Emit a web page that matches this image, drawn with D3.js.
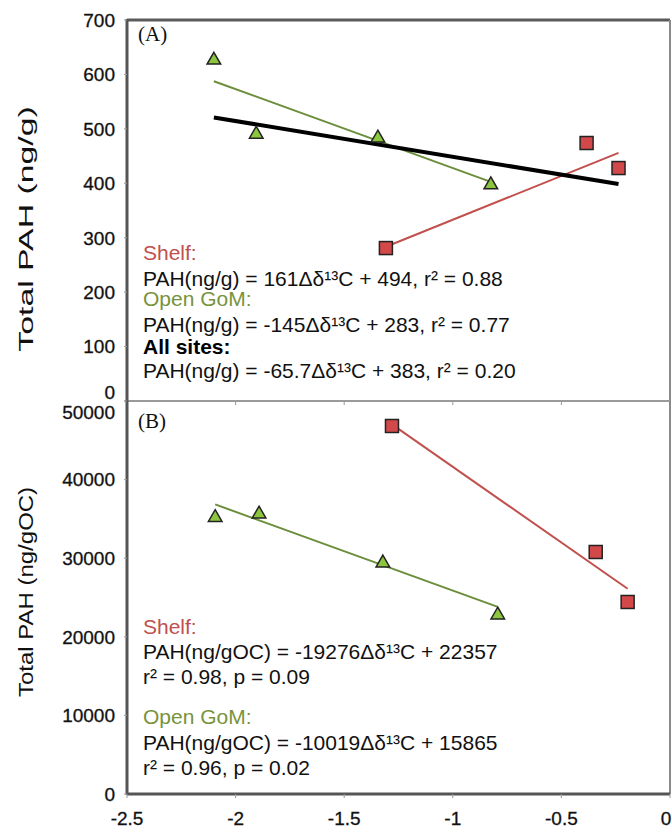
<!DOCTYPE html>
<html><head><meta charset="utf-8">
<script src="https://cdn.jsdelivr.net/npm/d3@7"></script>
<style>
html,body{margin:0;padding:0;background:#fff;}
svg{display:block;font-family:"Liberation Sans",Arial,sans-serif;}
</style></head>
<body>
<svg id="chart" width="672" height="828"></svg>
<script>
// ---------- DATA ----------
const xTicks = [-2.5, -2, -1.5, -1, -0.5, 0];
const xTickLabels = ["-2.5", "-2", "-1.5", "-1", "-0.5", "0"];
const yTicksA = [0, 100, 200, 300, 400, 500, 600, 700];
const yTicksB = [0, 10000, 20000, 30000, 40000, 50000];

// Panel A: Total PAH (ng/g)
const openA_x = [-2.10, -1.905, -1.345, -0.825];
const openA_y = [628, 492, 485, 399];
const shelfA_x = [-1.308, -0.384, -0.237];
const shelfA_y = [281, 474, 428];
// fits (slope, intercept) from the chart equations
const fitShelfA = [161, 494];
const fitOpenA = [-145, 283];
const fitAllA = [-65.7, 383];

// Panel B: Total PAH (ng/gOC)
const openB_x = [-2.094, -1.892, -1.322, -0.793];
const openB_y = [35300, 35750, 29520, 22900];
const shelfB_x = [-1.280, -0.342, -0.195];
const shelfB_y = [46820, 30790, 24430];
const fitShelfB = [-19276, 22357];
const fitOpenB = [-10019, 15865];

const annoA = [
  {t: "Shelf:", c: "shelf"},
  {t: "PAH(ng/g) = 161Δδ¹³C + 494, r² = 0.88", c: "eq"},
  {t: "Open GoM:", c: "open"},
  {t: "PAH(ng/g) = -145Δδ¹³C + 283, r² = 0.77", c: "eq"},
  {t: "All sites:", c: "all"},
  {t: "PAH(ng/g) = -65.7Δδ¹³C + 383, r² = 0.20", c: "eq"}
];
const annoB = [
  {t: "Shelf:", c: "shelf"},
  {t: "PAH(ng/gOC) = -19276Δδ¹³C + 22357", c: "eq"},
  {t: "r² = 0.98, p = 0.09", c: "eq"},
  {t: "Open GoM:", c: "open"},
  {t: "PAH(ng/gOC) = -10019Δδ¹³C + 15865", c: "eq"},
  {t: "r² = 0.96, p = 0.02", c: "eq"}
];

// ---------- STYLE / LAYOUT ----------
const C = {
  shelfText: "#c0504d", openText: "#77933c",
  shelfLine: "#c0504d", openLine: "#6b8e3a",
  sqFill: "#d34848", triFill: "#8cc63e", stroke: "#222"
};
const left = 127, right = 670;
const svg = d3.select("#chart");

const x = d3.scaleLinear().domain([-2.5, 0]).range([left, right]);
const yA = d3.scaleLinear().domain([0, 700]).range([401, 20]);
const yB = d3.scaleLinear().domain([0, 50000]).range([794, 401]);

function zip(xs, ys){ return xs.map((v,i)=>[v, ys[i]]); }

function drawPanel(y, ticks, tickShift, opts){
  const g = svg.append("g");
  const [y0, y1] = y.range(); // bottom, top
  g.append("line").attr("x1", left).attr("x2", right).attr("y1", y1).attr("y2", y1)
    .attr("stroke", opts.topColor).attr("stroke-width", opts.topWidth);
  g.append("line").attr("x1", right).attr("x2", right).attr("y1", y1).attr("y2", y0)
    .attr("stroke", "#8a8a8a").attr("stroke-width", 2);
  g.append("line").attr("x1", left).attr("x2", right).attr("y1", y0).attr("y2", y0)
    .attr("stroke", opts.bottomColor).attr("stroke-width", opts.bottomWidth);
  g.append("line").attr("x1", left).attr("x2", left).attr("y1", y1-1).attr("y2", y0+1)
    .attr("stroke", "#555").attr("stroke-width", 3);

  g.selectAll(".xt").data(xTicks).join("line")
    .attr("x1", d=>x(d)).attr("x2", d=>x(d)).attr("y1", y0).attr("y2", y0+4)
    .attr("stroke", "#999").attr("stroke-width", 1);
  g.selectAll(".yt").data(ticks).join("line")
    .attr("x1", left-3).attr("x2", left).attr("y1", d=>y(d)).attr("y2", d=>y(d))
    .attr("stroke", "#999").attr("stroke-width", 1);
  g.selectAll(".yl").data(ticks).join("text")
    .attr("x", 115).attr("y", d=>y(d) + (tickShift[d]||0))
    .attr("dy", "0.36em").attr("text-anchor", "end")
    .attr("font-size", 19).attr("fill", "#111")
    .attr("stroke", "#111").attr("stroke-width", 0.3)
    .text(d=>d);
  return g;
}

const gA = drawPanel(yA, yTicksA, {0: -9}, {topColor:"#5a5a5a", topWidth:3, bottomColor:"#9a9a9a", bottomWidth:2});
const gB = drawPanel(yB, yTicksB, {50000: 11}, {topColor:"#9a9a9a", topWidth:2, bottomColor:"#555", bottomWidth:3});

// x tick labels at bottom
svg.selectAll(".xl").data(xTicks).join("text")
  .attr("x", (d,i)=> i === xTicks.length-1 ? x(d)-4 : x(d))
  .attr("y", 825).attr("text-anchor", "middle")
  .attr("font-size", 19).attr("fill", "#111")
  .attr("stroke", "#111").attr("stroke-width", 0.3)
  .text((d,i)=>xTickLabels[i]);

// y axis titles (glyphs stretched lengthwise as in the reference)
function yTitle(cx, cy, txt, sx){
  svg.append("text").attr("transform", `translate(${cx},${cy}) rotate(-90) scale(${sx},1)`)
    .attr("text-anchor", "middle").attr("font-size", 20).attr("fill", "#111")
    .text(txt);
}
yTitle(33, 229, "Total PAH (ng/g)", 1.69);
yTitle(33, 592, "Total PAH (ng/gOC)", 1.20);

// panel letters
svg.append("text").attr("x", 138).attr("y", 41).attr("font-family", "'Liberation Serif', serif")
  .attr("font-size", 21).attr("fill", "#111").text("(A)");
svg.append("text").attr("x", 138).attr("y", 428).attr("font-family", "'Liberation Serif', serif")
  .attr("font-size", 21).attr("fill", "#111").text("(B)");

// ---------- fit lines ----------
function fitLine(g, y, fit, xs, color, width){
  const ext = d3.extent(xs);
  const pts = ext.map(v => [v, fit[0]*v + fit[1]]);
  g.append("path").attr("d", d3.line().x(d=>x(d[0])).y(d=>y(d[1]))(pts))
    .attr("fill", "none").attr("stroke", color).attr("stroke-width", width);
}
fitLine(gA, yA, fitOpenA, openA_x, C.openLine, 2);
fitLine(gA, yA, fitShelfA, shelfA_x, C.shelfLine, 2);
fitLine(gA, yA, fitAllA, openA_x.concat(shelfA_x), "#000", 4);
fitLine(gB, yB, fitOpenB, openB_x, C.openLine, 2);
fitLine(gB, yB, fitShelfB, shelfB_x, C.shelfLine, 2);

// ---------- markers ----------
const tri = d3.symbol().type(d3.symbolTriangle).size(80);
function markers(g, y, xs, ys, kind){
  const data = zip(xs, ys);
  if (kind === "tri") {
    g.selectAll(null).data(data).join("path")
      .attr("d", tri).attr("transform", d=>`translate(${x(d[0])},${y(d[1])+1})`)
      .attr("fill", C.triFill).attr("stroke", C.stroke).attr("stroke-width", 1.5);
  } else {
    const s = 13;
    g.selectAll(null).data(data).join("rect")
      .attr("x", d=>x(d[0])-s/2).attr("y", d=>y(d[1])-s/2).attr("width", s).attr("height", s)
      .attr("fill", C.sqFill).attr("stroke", C.stroke).attr("stroke-width", 1.5);
  }
}
markers(gA, yA, openA_x, openA_y, "tri");
markers(gA, yA, shelfA_x, shelfA_y, "sq");
markers(gB, yB, openB_x, openB_y, "tri");
markers(gB, yB, shelfB_x, shelfB_y, "sq");

// ---------- annotations ----------
const colorOf = {shelf: C.shelfText, open: C.openText, all: "#000", eq: "#111"};
const baseA = [260, 286, 306, 332, 354, 378];
const baseB = [634, 659, 684, 724, 750, 775];
function annotate(list, bases){
  svg.selectAll(null).data(list).join("text")
    .attr("x", 143).attr("y", (d,i)=>bases[i])
    .attr("font-size", 21)
    .attr("font-weight", d=>d.c === "all" ? "bold" : "normal")
    .attr("fill", d=>colorOf[d.c]).text(d=>d.t);
}
annotate(annoA, baseA);
annotate(annoB, baseB);
</script>
</body></html>
